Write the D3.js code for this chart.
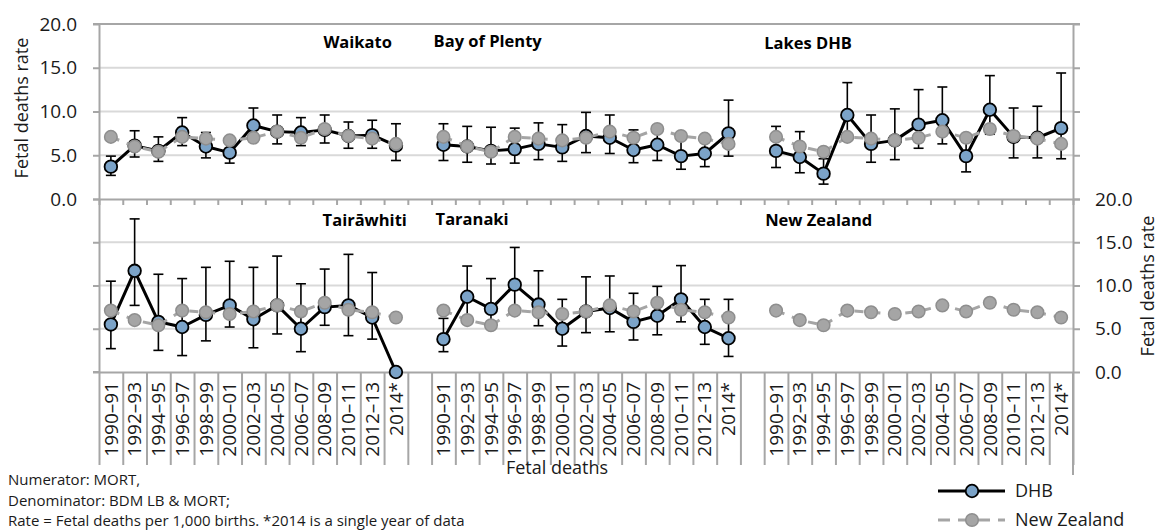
<!DOCTYPE html>
<html><head><meta charset="utf-8">
<script src="https://cdn.jsdelivr.net/npm/d3@7"></script>
<style>body{margin:0;background:#fff} text{font-family:"Open Sans",sans-serif}</style>
</head><body><svg id="c" width="1162" height="531"></svg>
<script>
const periods = ["1990–91","1992–93","1994–95","1996–97","1998–99","2000–01","2002–03","2004–05","2006–07","2008–09","2010–11","2012–13","2014*"];
const nzRate = [7.1, 6.0, 5.4, 7.1, 6.9, 6.7, 7.0, 7.7, 7.0, 8.0, 7.2, 6.9, 6.3];

const waikatoRate = [3.7, 6.1, 5.5, 7.6, 6.0, 5.3, 8.4, 7.7, 7.6, 7.9, 7.2, 7.3, 6.1];
const waikatoLow  = [2.7, 4.8, 4.3, 6.1, 4.7, 4.1, 6.8, 6.3, 6.1, 6.4, 5.8, 5.8, 4.4];
const waikatoHigh = [4.9, 7.8, 7.1, 9.3, 7.6, 6.7, 10.4, 9.6, 9.3, 9.6, 8.8, 9.0, 8.6];

const bopRate = [6.2, 6.0, 5.5, 5.7, 6.3, 5.9, 7.2, 7.0, 5.6, 6.2, 4.9, 5.2, 7.5];
const bopLow  = [4.4, 4.2, 4.0, 4.1, 4.5, 4.3, 5.3, 5.2, 4.15, 4.4, 3.4, 3.7, 4.9];
const bopHigh = [8.6, 8.3, 8.2, 8.1, 8.7, 8.5, 9.9, 9.6, 7.9, 8.3, 6.8, 7.1, 11.3];

const lakesRate = [5.5, 4.8, 2.9, 9.6, 6.3, 6.7, 8.5, 9.0, 4.9, 10.2, 7.1, 7.0, 8.1];
const lakesLow  = [3.6, 3.0, 1.7, 7.0, 4.2, 4.5, 5.8, 6.3, 3.1, 7.4, 4.7, 4.7, 4.6];
const lakesHigh = [8.3, 7.7, 4.6, 13.3, 9.6, 10.3, 12.5, 12.8, 7.0, 14.1, 10.4, 10.6, 14.4];

const tairawhitiRate = [5.5, 11.7, 5.8, 5.2, 6.6, 7.7, 6.1, 7.7, 5.0, 7.5, 7.7, 6.3, 0.0];
const tairawhitiLow  = [2.7, 7.7, 2.5, 1.9, 3.6, 5.2, 2.8, 4.4, 2.35, 5.4, 4.2, 3.8, null];
const tairawhitiHigh = [10.5, 17.7, 11.3, 10.8, 12.1, 12.8, 12.1, 13.4, 10.2, 11.9, 13.6, 11.5, null];

const taranakiRate = [3.8, 8.7, 7.3, 10.1, 7.8, 5.0, 7.0, 7.4, 5.8, 6.5, 8.4, 5.2, 3.9];
const taranakiLow  = [2.35, 6.0, 5.0, 7.0, 5.35, 3.0, 4.55, 4.65, 3.7, 4.3, 5.8, 3.2, 1.8];
const taranakiHigh = [6.2, 12.25, 10.8, 14.4, 11.7, 8.4, 11.0, 11.1, 9.1, 9.9, 12.3, 8.4, 8.4];

const panelNames = ["Waikato","Bay of Plenty","Lakes DHB","Tairāwhiti","Taranaki","New Zealand"];
const yTicks = [0, 5, 10, 15, 20];
const footnotes = ["Numerator: MORT,", "Denominator: BDM LB & MORT;", "Rate = Fetal deaths per 1,000 births. *2014 is a single year of data"];
const legendLabels = ["DHB", "New Zealand"];
const axisTitle = "Fetal deaths rate";
const xTitle = "Fetal deaths";

const AXC = "#a6a6a6", GRID = "#d9d9d9", BLUE = "#7ba3c8", NZF = "#a5a5a5", NZS = "#8e8e8e";
const svg = d3.select("#c");
svg.append("rect").attr("width",1162).attr("height",531).attr("fill","#fff");

const nSlots = 41;
const x = d3.scaleBand().domain(d3.range(nSlots)).range([99,1073]).padding(0);
const xb = d3.scaleLinear().domain([0,nSlots]).range([99,1073]);
const yTop = d3.scaleLinear().domain([0,20]).range([199,24]);
const yBot = d3.scaleLinear().domain([0,20]).range([372,199]);
const xc = (off,i) => x(off+i) + x.bandwidth()/2;
const fmt = d3.format(".1f");

[yTop, yBot].forEach(y => {
  svg.append("g").selectAll("line").data([5,10,15]).join("line")
    .attr("x1",99).attr("x2",1073).attr("y1",d=>y(d)).attr("y2",d=>y(d))
    .attr("stroke",GRID).attr("stroke-width",2);
});

function styleAxis(g){
  g.select(".domain").attr("stroke",AXC).attr("stroke-width",2);
  g.selectAll(".tick line").attr("stroke",AXC).attr("stroke-width",2);
  g.selectAll(".tick text").attr("font-size",19).attr("fill","#1a1a1a").attr("font-family","Open Sans");
}
svg.append("line").attr("x1",93).attr("x2",1080).attr("y1",yTop(20)).attr("y2",yTop(20)).attr("stroke",AXC).attr("stroke-width",2);

svg.append("g").attr("transform","translate(99,0)")
  .call(d3.axisLeft(yTop).tickValues(yTicks).tickSize(6).tickSizeOuter(0).tickPadding(16).tickFormat(fmt)).call(styleAxis);
svg.append("g").attr("transform","translate(1073,0)")
  .call(d3.axisRight(yTop).tickValues(yTicks).tickSize(7).tickSizeOuter(0).tickFormat("")).call(styleAxis);
svg.append("g").attr("transform","translate(99,0)")
  .call(d3.axisLeft(yBot).tickValues(yTicks).tickSize(6).tickSizeOuter(0).tickFormat("")).call(styleAxis);
svg.append("g").attr("transform","translate(1073,0)")
  .call(d3.axisRight(yBot).tickValues(yTicks).tickSize(7).tickSizeOuter(0).tickPadding(15).tickFormat(fmt)).call(styleAxis);
svg.append("line").attr("x1",1073).attr("x2",1073).attr("y1",372).attr("y2",475).attr("stroke",AXC).attr("stroke-width",2);

svg.append("g").attr("transform",`translate(0,${yTop(0)})`)
  .call(d3.axisBottom(xb).tickValues(d3.range(nSlots+1)).tickSize(6).tickSizeOuter(0).tickFormat("")).call(styleAxis);
svg.append("g").attr("transform",`translate(0,${yBot(0)})`)
  .call(d3.axisBottom(xb).tickValues(d3.range(nSlots+1)).tickSize(93).tickSizeOuter(0).tickFormat("")).call(styleAxis);
svg.append("line").attr("x1",93).attr("x2",99).attr("y1",yBot(0)).attr("y2",yBot(0)).attr("stroke",AXC).attr("stroke-width",2);

[0,14,28].forEach(off => {
  svg.append("g").selectAll("text").data(periods).join("text")
    .attr("transform",(d,i)=>`translate(${xc(off,i)},382) rotate(-90)`)
    .attr("text-anchor","end").attr("dy","0.35em")
    .attr("font-size",19).attr("fill","#1a1a1a").text(d=>d);
});

const panels = [
  {y:yTop, off:0, rate:waikatoRate, lo:waikatoLow, hi:waikatoHigh},
  {y:yTop, off:14, rate:bopRate, lo:bopLow, hi:bopHigh},
  {y:yTop, off:28, rate:lakesRate, lo:lakesLow, hi:lakesHigh},
  {y:yBot, off:0, rate:tairawhitiRate, lo:tairawhitiLow, hi:tairawhitiHigh},
  {y:yBot, off:14, rate:taranakiRate, lo:taranakiLow, hi:taranakiHigh},
  {y:yBot, off:28, rate:null}
];

panels.forEach(p => {
  const g = svg.append("g");
  const y = p.y;
  if (p.rate) {
    const eb = p.rate.map((v,i)=>({i, lo:p.lo[i], hi:p.hi[i]})).filter(d=>d.lo!=null);
    const ebg = g.append("g").attr("stroke","#000").attr("stroke-width",1.6);
    ebg.selectAll("line.v").data(eb).join("line").attr("class","v")
      .attr("x1",d=>xc(p.off,d.i)).attr("x2",d=>xc(p.off,d.i)).attr("y1",d=>y(d.lo)).attr("y2",d=>y(d.hi));
    ebg.selectAll("line.t").data(eb).join("line").attr("class","t")
      .attr("x1",d=>xc(p.off,d.i)-5).attr("x2",d=>xc(p.off,d.i)+5).attr("y1",d=>y(d.hi)).attr("y2",d=>y(d.hi));
    ebg.selectAll("line.b").data(eb).join("line").attr("class","b")
      .attr("x1",d=>xc(p.off,d.i)-5).attr("x2",d=>xc(p.off,d.i)+5).attr("y1",d=>y(d.lo)).attr("y2",d=>y(d.lo));
    const line = d3.line().x((v,i)=>xc(p.off,i)).y(v=>y(v));
    g.append("path").attr("d",line(p.rate)).attr("fill","none").attr("stroke","#000").attr("stroke-width",3).attr("stroke-linejoin","round");
    g.selectAll("circle.d").data(p.rate).join("circle").attr("class","d")
      .attr("cx",(v,i)=>xc(p.off,i)).attr("cy",v=>y(v)).attr("r",6.3)
      .attr("fill",BLUE).attr("stroke","#000").attr("stroke-width",1.8);
  }
  const nzLine = d3.line().x((v,i)=>xc(p.off,i)).y(v=>y(v));
  g.append("path").attr("d",nzLine(nzRate)).attr("fill","none").attr("stroke",NZF).attr("stroke-width",3).attr("stroke-dasharray","9,8");
  g.selectAll("circle.n").data(nzRate).join("circle").attr("class","n")
    .attr("cx",(v,i)=>xc(p.off,i)).attr("cy",v=>y(v)).attr("r",6.3)
    .attr("fill",NZF).attr("stroke",NZS).attr("stroke-width",1.5);
});

const titlePos = [
  {x:xb(12.5)-4, y:48, a:"end"},
  {x:xb(14)+2, y:47, a:"start"},
  {x:xb(28), y:49, a:"start"},
  {x:xb(13)-1, y:226, a:"end"},
  {x:xb(14)+4, y:225, a:"start"},
  {x:xb(28)+1, y:226, a:"start"}
];
svg.append("g").selectAll("text").data(panelNames).join("text")
  .attr("x",(d,i)=>titlePos[i].x).attr("y",(d,i)=>titlePos[i].y).attr("text-anchor",(d,i)=>titlePos[i].a)
  .attr("font-size",16.5).attr("font-weight","bold").attr("fill","#000").text(d=>d);

svg.append("text").attr("transform","translate(22,108) rotate(-90)").attr("text-anchor","middle").attr("dy","0.35em")
  .attr("font-size",18).attr("fill","#1a1a1a").text(axisTitle);
svg.append("text").attr("transform","translate(1148,286) rotate(-90)").attr("text-anchor","middle").attr("dy","0.35em")
  .attr("font-size",18).attr("fill","#1a1a1a").text(axisTitle);
svg.append("text").attr("x",557).attr("y",468).attr("text-anchor","middle").attr("dy","0.35em")
  .attr("font-size",18).attr("fill","#1a1a1a").text(xTitle);

svg.append("g").selectAll("text").data(footnotes).join("text")
  .attr("x",8).attr("y",(d,i)=>485+i*20.5).attr("font-size",15).attr("fill","#1a1a1a").text(d=>d);

const lg = svg.append("g");
lg.append("line").attr("x1",938).attr("x2",1005).attr("y1",491).attr("y2",491).attr("stroke","#000").attr("stroke-width",3);
lg.append("circle").attr("cx",972).attr("cy",491).attr("r",6.3).attr("fill",BLUE).attr("stroke","#000").attr("stroke-width",1.8);
lg.append("line").attr("x1",938).attr("x2",1005).attr("y1",520).attr("y2",520).attr("stroke",NZF).attr("stroke-width",3).attr("stroke-dasharray","12,8");
lg.append("circle").attr("cx",972).attr("cy",520).attr("r",6.3).attr("fill",NZF).attr("stroke",NZS).attr("stroke-width",1.5);
lg.selectAll("text").data(legendLabels).join("text")
  .attr("x",1015).attr("y",(d,i)=>491+i*29).attr("dy","0.35em").attr("font-size",18).attr("fill","#1a1a1a").text(d=>d);
</script></body></html>
